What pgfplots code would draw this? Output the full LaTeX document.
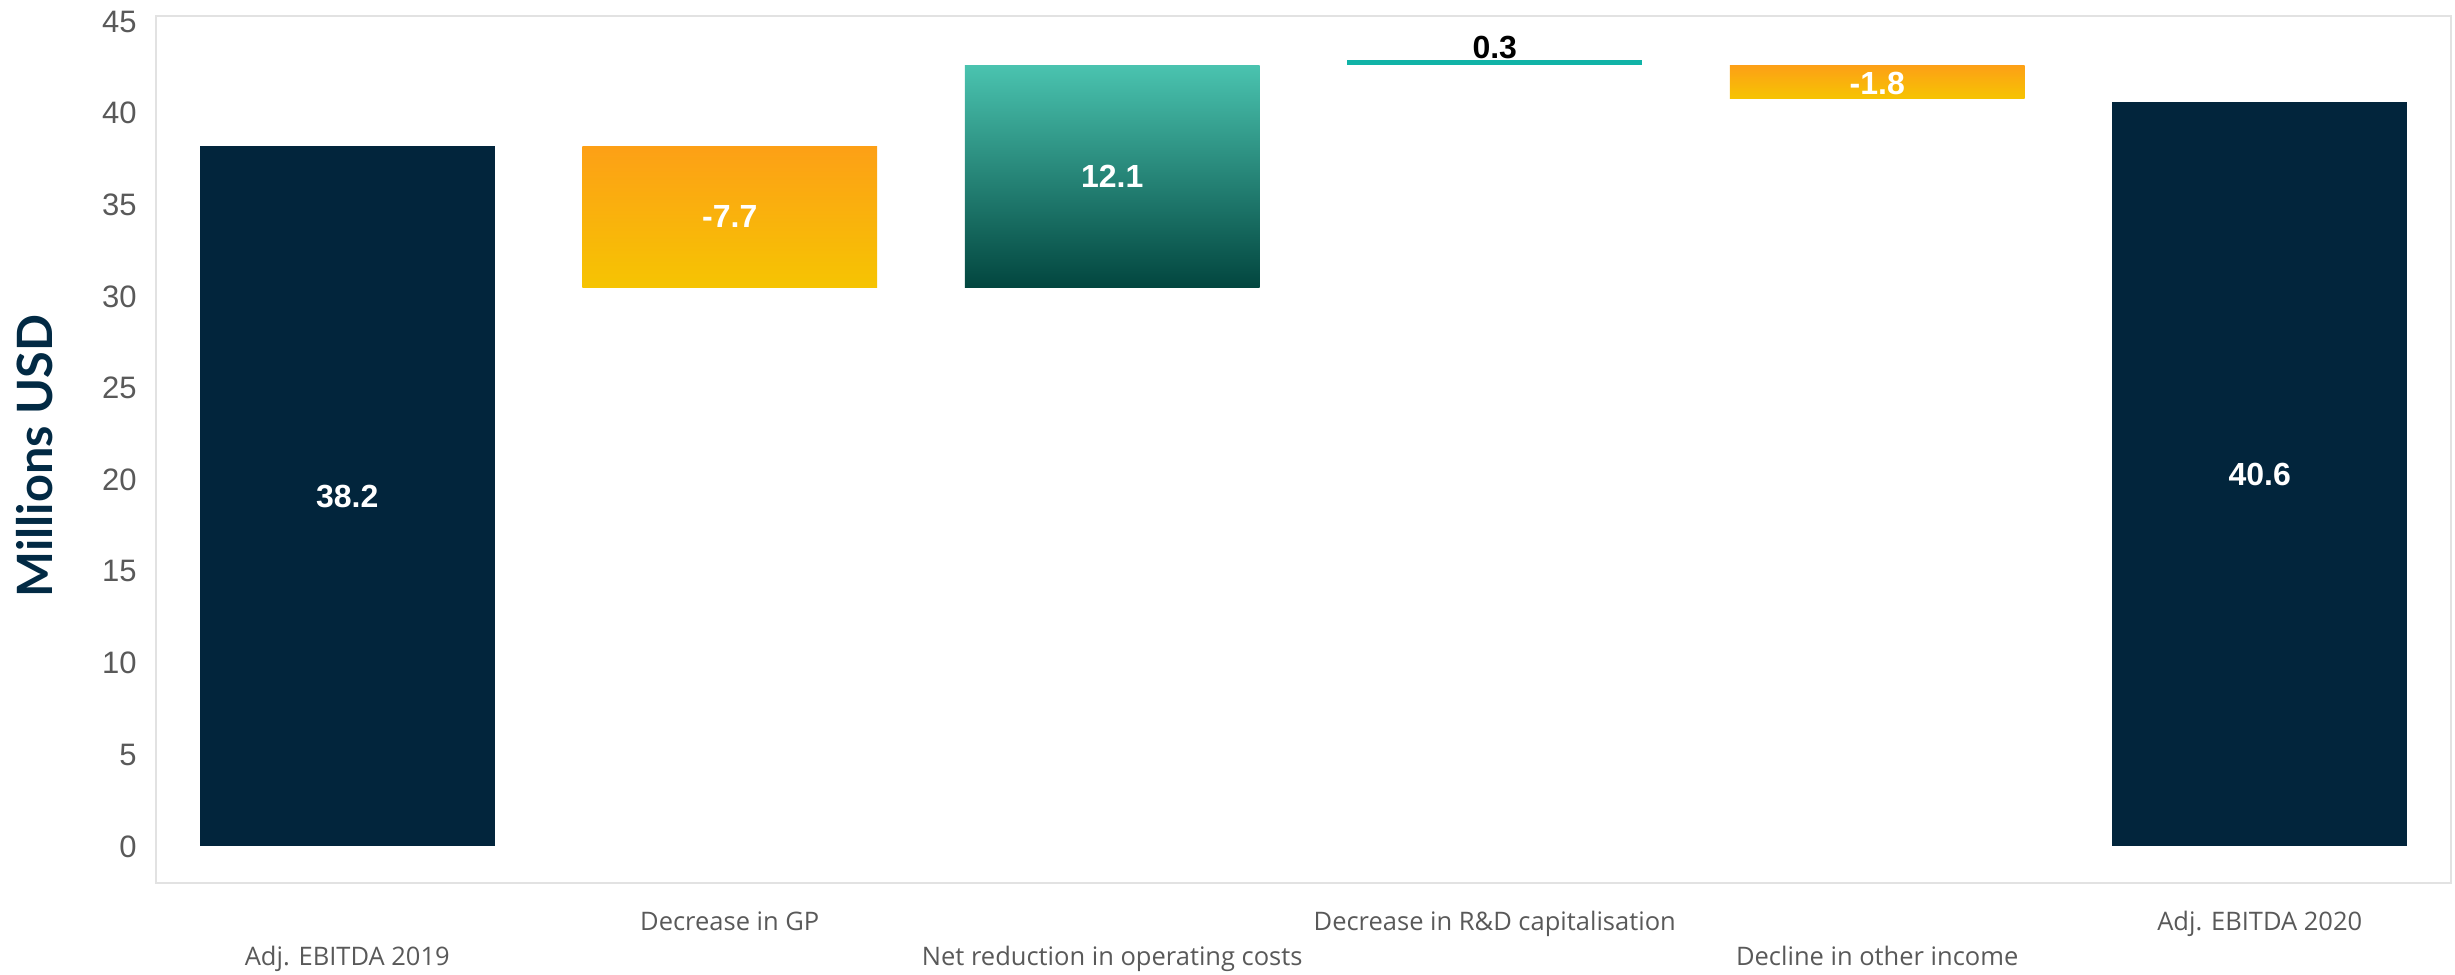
\documentclass[border=0pt]{standalone}
\usepackage{pgfplots}
\pgfplotsset{compat=1.18}
\usepackage{fontspec}
\setmainfont{Liberation Sans}
\newfontfamily\catfont{Open Sans}
\newfontfamily\ylabfont{Lato}
\definecolor{navy}{HTML}{02253C}
\definecolor{orTop}{HTML}{FDA016}
\definecolor{orBot}{HTML}{F6C402}
\definecolor{tlTop}{HTML}{4AC3AF}
\definecolor{tlBot}{HTML}{02463F}
\definecolor{tline}{HTML}{11B3A7}
\definecolor{tickgray}{HTML}{595959}
\definecolor{ylab}{HTML}{022A44}
\definecolor{frame}{HTML}{E2E2E2}
\begin{document}
\begin{tikzpicture}
\useasboundingbox (-46.8pt,-27.3pt) rectangle (689.7pt,264.9pt);
\begin{axis}[
  at={(0,0)}, anchor=south west,
  scale only axis, width=688.5pt, height=260.1pt,
  xmin=-0.5, xmax=5.5, ymin=-2, ymax=45.3,
  axis line style={draw=frame, line width=0.6pt},
  ytick={0,5,...,45},
  xtick={0,1,2,3,4,5},
  major tick length=0pt,
  tick style={draw=none},
  /pgf/number format/assume math mode=true,
  yticklabel style={font=\fontsize{9.3}{11}\selectfont, text=tickgray, xshift=-2.3pt},
  xticklabel style={font=\catfont\fontsize{7.65}{9}\selectfont, text=tickgray, anchor=base, yshift=-14.1pt},
  xticklabels={{\raisebox{-10.5pt}{Adj. EBITDA 2019}},{Decrease in GP},{\raisebox{-10.5pt}{Net reduction in operating costs}},{Decrease in R\&D capitalisation},{\raisebox{-10.5pt}{Decline in other income}},{Adj. EBITDA 2020}},
  ylabel={Millions USD},
  ylabel style={font=\ylabfont\bfseries\fontsize{14.6}{16}\selectfont, text=ylab, at={(axis description cs:-0.0527,0.4925)}, anchor=center},
]
% Adj. EBITDA 2019: 0 -> 38.2
\addplot[draw=none, fill=navy] coordinates {(-0.3856,0) (0.3856,0) (0.3856,38.2) (-0.3856,38.2)} -- cycle;
% Decrease in GP: -7.7 (38.2 -> 30.5)
\addplot[draw=none, top color=orTop, bottom color=orBot] coordinates {(0.6144,30.5) (1.3856,30.5) (1.3856,38.2) (0.6144,38.2)} -- cycle;
% Net reduction in operating costs: +12.1 (30.5 -> 42.6)
\addplot[draw=none, top color=tlTop, bottom color=tlBot] coordinates {(1.6144,30.5) (2.3856,30.5) (2.3856,42.6) (1.6144,42.6)} -- cycle;
% Decrease in R&D capitalisation: +0.3 (42.6 -> 42.9)
\addplot[draw=none, fill=tline] coordinates {(2.6144,42.6) (3.3856,42.6) (3.3856,42.9) (2.6144,42.9)} -- cycle;
% Decline in other income: -1.8 (42.6 -> 40.8)
\addplot[draw=none, top color=orTop, bottom color=orBot] coordinates {(3.6144,40.8) (4.3856,40.8) (4.3856,42.6) (3.6144,42.6)} -- cycle;
% Adj. EBITDA 2020: 0 -> 40.6
\addplot[draw=none, fill=navy] coordinates {(4.6144,0) (5.3856,0) (5.3856,40.6) (4.6144,40.6)} -- cycle;

\begin{scope}[every node/.style={font=\bfseries\fontsize{9.6}{11}\selectfont, text=white, anchor=center}]
\node at (axis cs:0,19.1) {38.2};
\node at (axis cs:1,34.35) {-7.7};
\node at (axis cs:2,36.55) {12.1};
\node[text=black] at (axis cs:3,43.6) {0.3};
\node at (axis cs:4,41.6) {-1.8};
\node at (axis cs:5,20.3) {40.6};
\end{scope}
\end{axis}
\end{tikzpicture}
\end{document}
